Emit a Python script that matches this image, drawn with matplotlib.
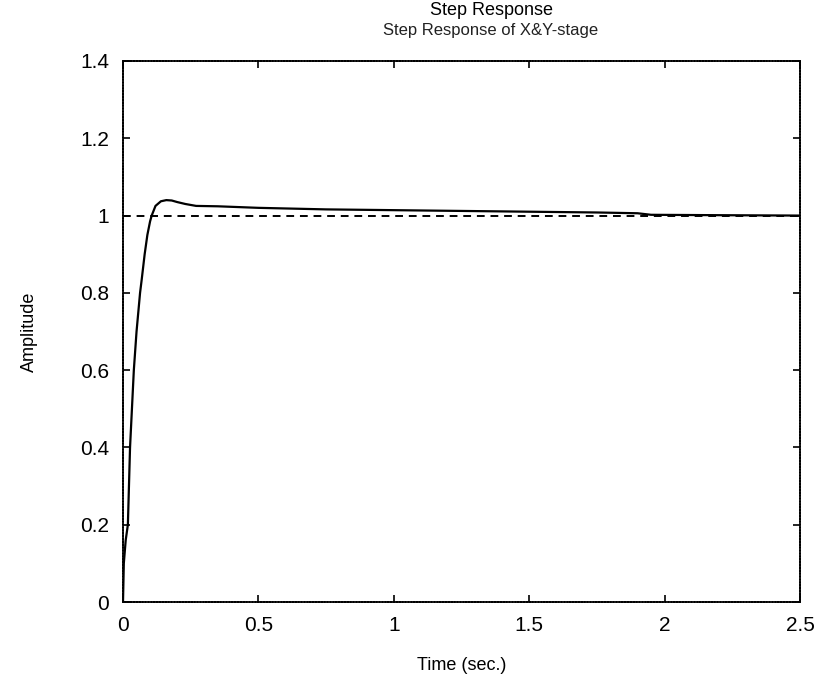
import numpy as np
import matplotlib.pyplot as plt

# step response
time_s = [0, 0.003, 0.01, 0.018, 0.026, 0.033, 0.04, 0.05, 0.063, 0.069,
          0.08, 0.09, 0.1, 0.106, 0.12, 0.14, 0.16, 0.18, 0.2, 0.23,
          0.27, 0.35, 0.5, 0.75, 1.0, 1.25, 1.5, 1.75, 1.9, 1.95,
          2.2, 2.5]
amplitude = [0, 0.1, 0.16, 0.2, 0.4, 0.5, 0.6, 0.7, 0.8, 0.834,
             0.9, 0.95, 0.985, 1.0, 1.025, 1.037, 1.04, 1.039, 1.035, 1.03,
             1.025, 1.024, 1.02, 1.016, 1.014, 1.012, 1.01, 1.008, 1.006, 1.002,
             1.001, 1.0]

final_value = 1.0
x_ticks = [0, 0.5, 1, 1.5, 2, 2.5]
x_labels = ["0", "0.5", "1", "1.5", "2", "2.5"]
y_ticks = [0, 0.2, 0.4, 0.6, 0.8, 1, 1.2, 1.4]
y_labels = ["0", "0.2", "0.4", "0.6", "0.8", "1", "1.2", "1.4"]

plt.rcParams["font.family"] = ["Liberation Sans", "DejaVu Sans"]

fig = plt.figure(figsize=(8.16, 6.77), dpi=100)
ax = fig.add_axes([123 / 816, 1 - 602 / 677, 677 / 816, 541 / 677])

ax.plot(time_s, amplitude, color="black", linewidth=1.6)
ax.axhline(final_value, color="black", linewidth=1.4, linestyle=(0, (4, 3)))

ax.set_xlim(0, 2.5)
ax.set_ylim(0, 1.4)
ax.set_xticks(x_ticks)
ax.set_xticklabels(x_labels)
ax.set_yticks(y_ticks)
ax.set_yticklabels(y_labels)
ax.tick_params(direction="in", length=5, width=1.2, top=True, right=True,
               labelsize=15, pad=10, colors="black")
for spine in ax.spines.values():
    spine.set_linewidth(1.3)
    spine.set_linestyle((0, (1, 0.6)))

ax.set_xlabel("Time (sec.)", fontsize=13, labelpad=16)
ax.set_ylabel("Amplitude", fontsize=13, labelpad=30)

# title and subtitle sit almost on top of each other in the original
fig.text(491 / 816, 1 - 15 / 677, "Step Response", ha="center",
         va="baseline", fontsize=13)
fig.text(491 / 816, 1 - 35 / 677, "Step Response of X&Y-stage", ha="center",
         va="baseline", fontsize=12, color="#222222")

fig.savefig("out.png", dpi=100)
